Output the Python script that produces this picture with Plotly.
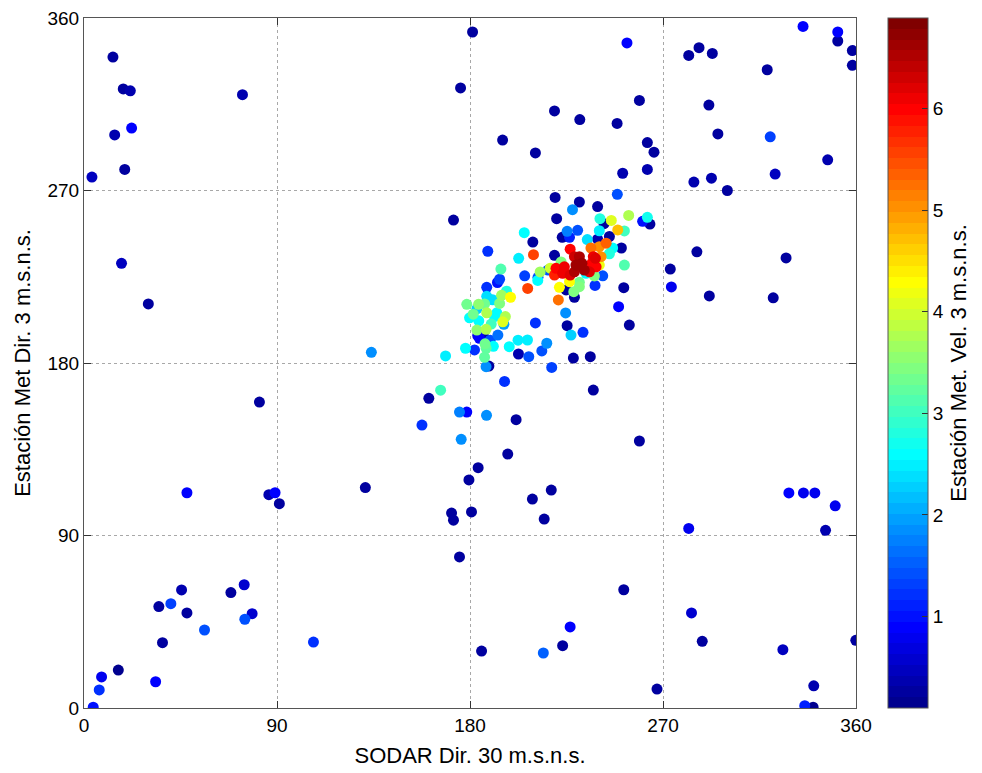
import math
import numpy as np
import plotly.graph_objects as go

# Wind direction pairs: SODAR at 30 m (x), met station at 3 m (y), met station speed (colour)
sodar_dir = [
    13.5, 18.3, 21.6, 73.9, 22.2, 14.3, 19.0, 3.7, 17.5, 30.0, 134.0, 81.8, 48.0, 86.2, 89.1, 91.1, 131.2,
    45.5, 34.9, 40.5, 48.0, 68.5, 74.7, 78.4, 75.0, 56.2, 36.6, 16.0, 8.2, 7.1, 33.4, 4.3, 107.0,
    328.7, 335.5, 340.8, 350.3, 345.8, 282.0, 251.7, 226.7, 223.2, 283.3, 288.3, 325.9, 359.9, 340.3, 336.1, 340.0, 267.2, 214.2, 185.4,
    253.2, 259.0, 231.2, 248.6, 262.7, 265.8, 262.7, 251.2, 248.7, 231.0, 227.8, 239.5, 282.0, 286.8, 293.0, 335.3, 351.5, 351.5,
    358.3, 358.3, 318.6, 291.4, 295.6, 320.0, 346.8, 322.3, 284.4, 292.6, 300.0, 181.2, 175.6, 195.2, 210.5, 219.4,
    327.4, 321.4, 291.6, 285.8, 273.4, 273.9, 259.0, 237.5,
    172.3, 196.1, 166.3, 160.8, 175.1, 178.5, 187.7, 201.5, 157.6, 175.9, 197.6, 183.8, 179.5, 171.4, 172.3, 180.7, 175.1, 209.1, 217.9, 214.6,
    219.7, 220.4, 240.6, 245.9, 254.0, 262.7, 260.5, 263.9, 242.5, 205.3, 230.2, 225.3, 223.0, 209.3, 226.4, 240.3, 245.0, 248.9, 252.0, 234.7,
    239.5, 188.3, 202.7, 209.6, 219.4, 194.4, 193.8, 192.8, 205.5, 211.7, 212.7, 216.4, 187.8, 187.8, 194.7, 198.9, 206.9, 221.7, 221.2, 224.8,
    228.7, 228.4, 238.3, 241.9, 251.7, 249.3, 254.3, 224.6, 225.3, 227.1, 232.7, 228.2, 236.1, 218.1, 210.5, 215.8, 213.5, 207.4, 202.6, 206.8,
    202.4, 198.3,
    226.7, 231.0, 232.2, 236.4, 240.3, 237.5, 236.8, 224.0, 220.1, 223.2, 219.4, 228.7, 229.4, 233.3, 226.7, 235.7, 238.8, 238.5, 241.1, 234.1,
    238.0, 231.0, 226.4, 246.5, 250.6, 252.0, 240.3, 222.5, 228.7, 231.0, 217.4, 243.5, 245.0,
    178.5, 184.0, 186.8, 183.2, 193.8, 187.8, 192.5, 196.5, 195.3, 195.8, 179.8, 184.1, 189.9, 191.4, 183.2, 187.5, 193.0, 183.6, 186.3, 189.4,
    184.4, 187.5, 177.9, 182.1, 186.8, 168.6, 188.8, 187.5, 190.9, 187.0, 181.5, 190.5, 197.0, 211.6,
]

met_dir = [
    339.6, 323.0, 322.0, 320.0, 302.6, 299.0, 281.0, 277.0, 232.0, 210.8, 185.6, 159.6, 112.3, 111.3, 112.3, 106.6, 115.0,
    61.6, 52.9, 54.4, 49.6, 60.2, 64.3, 49.2, 46.3, 40.7, 34.1, 19.8, 16.2, 9.4, 13.7, 0.4, 34.4,
    112.2, 112.2, 112.2, 105.5, 92.7, 93.7, 61.7, 42.3, 32.5, 49.6, 34.8, 30.4, 35.3, 11.6, 1.2, 0.4, 9.9, 28.7, 29.7,
    347.0, 317.0, 307.0, 305.0, 295.0, 290.0, 281.0, 279.0, 268.0, 264.0, 260.0, 261.6, 340.5, 344.5, 341.5, 355.6, 352.7, 348.0,
    343.0, 335.3, 333.0, 314.6, 299.5, 298.0, 286.0, 278.6, 274.4, 276.4, 270.0, 352.7, 323.5, 296.3, 289.6, 311.5,
    234.8, 214.0, 215.0, 238.0, 229.0, 219.7, 139.3, 165.9,
    254.6, 170.4, 165.8, 161.6, 154.4, 154.4, 152.7, 150.4, 147.6, 140.2, 132.5, 125.4, 119.0, 101.7, 98.0, 102.3, 78.8, 109.0, 113.7, 98.6,
    266.4, 255.3, 255.3, 254.4, 257.0, 256.0, 253.9, 252.5, 252.7, 248.0, 249.2, 248.7, 245.6, 243.1, 245.6, 249.0, 246.0, 249.4, 248.9, 244.4,
    244.6, 238.3, 234.6, 236.5, 236.2, 229.0, 223.7, 222.0, 225.5, 224.7, 227.5, 228.5, 219.5, 214.8, 215.3, 214.3, 218.9, 219.5, 212.9, 218.1,
    214.3, 217.2, 220.5, 225.5, 219.3, 209.4, 199.8, 206.1, 199.5, 194.6, 196.0, 182.6, 183.3, 177.7, 200.9, 190.3, 186.3, 183.3, 184.7, 192.0,
    191.9, 188.5,
    239.4, 235.5, 232.0, 240.0, 240.7, 235.5, 232.0, 230.2, 229.4, 226.8, 225.9, 227.6, 231.1, 228.5, 225.9, 227.6, 230.2, 234.6, 235.5, 226.8,
    225.4, 222.1, 222.4, 240.0, 240.0, 231.1, 231.1, 232.7, 235.5, 219.8, 229.5, 242.5, 237.0,
    210.6, 210.6, 210.8, 208.2, 211.1, 206.2, 206.2, 204.2, 201.5, 200.2, 203.6, 202.0, 200.3, 204.2, 197.2, 197.6, 194.6, 194.3, 193.7, 191.9,
    192.9, 187.7, 187.7, 186.8, 183.0, 183.7, 178.4, 178.1, 188.7, 190.0, 205.5, 213.0, 217.5, 223.1,
]

met_speed = [
    0.3, 0.3, 0.4, 0.4, 0.9, 0.4, 0.3, 0.5, 0.5, 0.3, 1.8, 0.3, 0.9, 0.4, 0.9, 0.3, 0.3,
    0.4, 0.3, 1.3, 0.3, 0.3, 0.6, 0.6, 1.4, 1.4, 0.3, 0.2, 0.8, 1.2, 0.9, 1.0, 1.2,
    0.9, 0.8, 0.8, 0.8, 0.4, 0.8, 0.3, 0.9, 0.3, 0.6, 0.3, 0.5, 0.3, 0.4, 1.1, 0.2, 0.3, 1.5, 0.3,
    0.9, 0.3, 0.3, 0.3, 0.3, 0.3, 0.4, 0.4, 1.4, 0.3, 1.8, 0.3, 0.3, 0.3, 0.3, 0.9, 0.9, 0.3,
    0.3, 0.3, 0.3, 0.3, 0.3, 1.3, 0.4, 0.5, 0.4, 0.4, 0.3, 0.3, 0.3, 0.3, 0.3, 0.3,
    0.3, 0.3, 0.3, 0.3, 0.3, 0.8, 0.3, 0.3,
    0.3, 1.2, 3.0, 0.3, 1.7, 0.9, 1.8, 0.3, 1.2, 1.9, 0.3, 0.3, 0.3, 0.3, 0.3, 0.3, 0.3, 0.3, 0.3, 0.3,
    0.3, 0.3, 2.8, 4.1, 3.8, 2.7, 1.0, 0.3, 0.3, 2.6, 1.4, 1.7, 0.3, 0.3, 1.1, 2.5, 0.3, 4.7, 3.0, 2.4,
    0.4, 1.2, 2.5, 5.6, 0.3, 3.1, 1.3, 1.0, 1.3, 1.4, 3.7, 1.4, 1.2, 2.4, 3.7, 4.3, 5.6, 4.3, 5.2, 0.3,
    0.3, 3.4, 1.2, 1.4, 0.3, 0.9, 0.3, 1.9, 0.3, 2.3, 1.2, 0.3, 0.3, 1.3, 1.2, 1.9, 1.4, 1.4, 0.4, 2.5,
    2.5, 2.6,
    6.0, 6.5, 6.6, 5.2, 5.0, 6.1, 6.0, 6.1, 6.0, 6.1, 5.8, 6.5, 6.6, 6.6, 6.2, 6.2, 6.0, 6.2, 5.0, 2.6,
    3.4, 3.3, 4.3, 2.6, 0.3, 3.1, 4.2, 3.4, 6.3, 3.4, 4.0, 5.4, 2.8,
    3.3, 3.6, 3.3, 2.3, 3.4, 3.8, 2.6, 3.8, 4.1, 2.0, 2.6, 2.6, 3.0, 2.6, 3.5, 3.8, 1.6, 0.8, 0.4, 1.4,
    0.9, 3.2, 2.6, 1.2, 3.2, 2.5, 0.3, 1.8, 2.6, 3.3, 3.3, 2.4, 2.8, 2.6,
]

dir_ticks = [0, 90, 180, 270, 360]
speed_ticks = [1, 2, 3, 4, 5, 6]
speed_min, speed_max = 0.1, 6.89


def jet(m=64):
    """Classic 64-level jet colormap as RGB triples in [0, 1]."""
    n = math.ceil(m / 4)
    u = np.concatenate([np.arange(1, n + 1) / n, np.ones(n - 1), np.arange(n, 0, -1) / n])
    g = math.ceil(n / 2) - (1 if m % 4 == 1 else 0) + np.arange(1, len(u) + 1)
    r = g + n
    b = g - n
    cmap = np.zeros((m, 3))
    gv = (g >= 1) & (g <= m)
    cmap[g[gv] - 1, 1] = u[gv]
    rv = r <= m
    cmap[r[rv] - 1, 0] = u[: rv.sum()]
    bv = b >= 1
    cmap[b[bv] - 1, 2] = u[len(u) - bv.sum():]
    return cmap


cmap = jet(64)
colorscale = []
for i, (cr, cg, cb) in enumerate(cmap):
    col = f"rgb({round(cr * 255)},{round(cg * 255)},{round(cb * 255)})"
    colorscale.append([i / 64, col])
    colorscale.append([(i + 1) / 64, col])

# Draw slow points first so the strongest winds sit on top
order = np.argsort(met_speed, kind="stable")
xs = np.array(sodar_dir)[order]
ys = np.array(met_dir)[order]
cs = np.array(met_speed)[order]

font_family = "Liberation Sans, Arial, Helvetica, sans-serif"
tick_size = 19
title_size = 22

fig = go.Figure(
    go.Scatter(
        x=xs,
        y=ys,
        mode="markers",
        marker=dict(
            size=11,
            color=cs,
            cmin=speed_min,
            cmax=speed_max,
            colorscale=colorscale,
            line=dict(width=0),
            colorbar=dict(
                x=1.04,
                xanchor="left",
                y=0.5,
                yanchor="middle",
                len=1,
                lenmode="fraction",
                thickness=40,
                thicknessmode="pixels",
                outlinewidth=1,
                outlinecolor="#555555",
                tickvals=speed_ticks,
                ticktext=[str(t) for t in speed_ticks],
                ticks="inside",
                ticklen=6,
                tickcolor="#333333",
                tickfont=dict(family=font_family, size=tick_size, color="black"),
                title=dict(
                    text="Estación Met. Vel. 3 m.s.n.s.",
                    side="right",
                    font=dict(family=font_family, size=title_size, color="black"),
                ),
                xpad=0,
                ypad=0,
            ),
        ),
        showlegend=False,
        hoverinfo="x+y",
    )
)

axis_common = dict(
    range=[0, 360],
    tickvals=dir_ticks,
    ticktext=[str(t) for t in dir_ticks],
    showgrid=True,
    gridcolor="#a8a8a8",
    griddash="dot",
    gridwidth=1,
    zeroline=False,
    showline=True,
    linecolor="#555555",
    linewidth=1,
    mirror="ticks",
    ticks="inside",
    ticklen=7,
    tickcolor="#333333",
    tickfont=dict(family=font_family, size=tick_size, color="black"),
    automargin=False,
)

fig.update_layout(
    width=982,
    height=773,
    margin=dict(l=84, r=125, t=18, b=65),
    paper_bgcolor="white",
    plot_bgcolor="white",
    font=dict(family=font_family, color="black"),
    xaxis=dict(
        **axis_common,
        title=dict(text="SODAR Dir. 30 m.s.n.s.", font=dict(family=font_family, size=title_size, color="black"), standoff=12),
    ),
    yaxis=dict(
        **axis_common,
        title=dict(text="Estación Met Dir. 3 m.s.n.s.", font=dict(family=font_family, size=title_size, color="black"), standoff=10),
    ),
)

fig.write_html("out.html")
